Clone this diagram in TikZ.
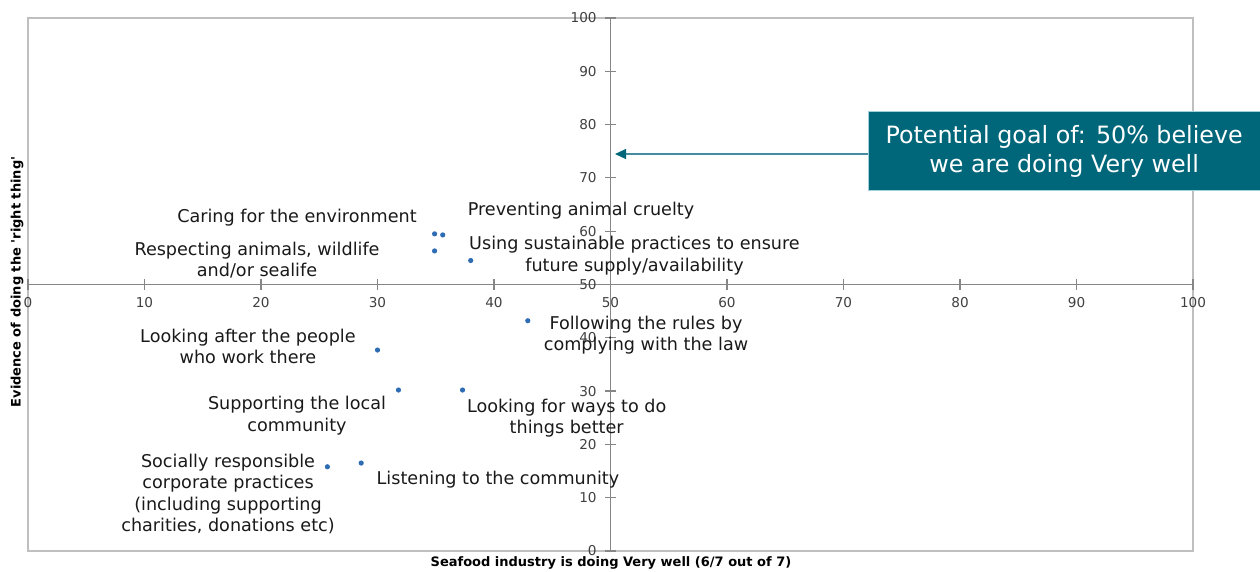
\documentclass[tikz,border=0pt]{standalone}
\usepackage{fontspec}
\setmainfont{DejaVu Sans}[Ligatures=TeXOff]
\usepackage{tikz}
\usetikzlibrary{arrows.meta, positioning}
\definecolor{framegray}{RGB}{191, 191, 191}
\definecolor{axisgray}{RGB}{134, 134, 134}
\definecolor{ticktext}{RGB}{64, 64, 64}
\definecolor{dotblue}{RGB}{46, 108, 180}
\definecolor{goalteal}{RGB}{0, 102, 122}
\definecolor{goalborder}{RGB}{160, 208, 220}
\definecolor{arrowteal}{RGB}{70, 140, 160}

\begin{document}
\begin{tikzpicture}[x=5.825pt, y=2.665pt,
    dot/.style={circle, fill=dotblue, inner sep=0pt, minimum size=2.6pt},
    itemlabel/.style={font=\fontsize{8.8pt}{10.65pt}\selectfont, align=center, inner sep=0pt, text=black!90},
    ticklabel/.style={font=\fontsize{6.8pt}{8pt}\selectfont, text=ticktext, inner sep=0pt},
    axistitle/.style={font=\fontsize{6.5pt}{8pt}\selectfont\bfseries, inner sep=0pt},
    axisline/.style={axisgray, line width=0.6pt}]
        \useasboundingbox (-2.4034, -3.940) rectangle (105.751, 103.377);

        % Plot area
        \draw[framegray, line width=1pt] (0, 0) rectangle (100, 100);

        % Axes crossing at 50/50
        \draw[axisline] (0, 50) -- (100, 50);
        \draw[axisline] (50, 0) -- (50, 100);
        \foreach \v in {0, 10, ..., 100} {
            \draw[axisline] (\v, 49.06) -- (\v, 50.94);
            \draw[axisline] (49.57, \v) -- (50.43, \v);
            \node[ticklabel] (xtick\v) at (\v, 46.53) {\v};
            \node[ticklabel, anchor=east] (ytick\v) at (48.84, \v) {\v};
        }

        % Axis titles
        \node[axistitle] (xtitle) at (50.04, -2.31) {Seafood industry is doing Very well (6/7 out of 7)};
        \node[axistitle, rotate=90] (ytitle) at (-0.944, 50.47) {Evidence of doing the 'right thing'};

        % Data points
        \node[dot] (envdot) at (34.9, 59.5) {};
        \node[dot] (crueltydot) at (35.6, 59.3) {};
        \node[dot] (animalsdot) at (34.9, 56.3) {};
        \node[dot] (sustaindot) at (38.0, 54.5) {};
        \node[dot] (rulesdot) at (42.9, 43.2) {};
        \node[dot] (peopledot) at (30.0, 37.7) {};
        \node[dot] (localdot) at (31.8, 30.2) {};
        \node[dot] (betterdot) at (37.3, 30.2) {};
        \node[dot] (sociallydot) at (25.7, 15.8) {};
        \node[dot] (listendot) at (28.6, 16.5) {};

        % Point labels
        \node[itemlabel] (envlabel) at (23.09, 62.48) {Caring for the environment};
        \node[itemlabel] (crueltylabel) at (47.47, 63.85) {Preventing animal cruelty};
        \node[itemlabel] (animalslabel) at (19.66, 54.60) {Respecting animals, wildlife\\and/or sealife};
        \node[itemlabel] (sustainlabel) at (52.06, 55.44) {Using sustainable practices to ensure\\future supply/availability};
        \node[itemlabel] (ruleslabel) at (53.05, 40.53) {Following the rules by\\complying with the law};
        \node[itemlabel] (peoplelabel) at (18.88, 38.37) {Looking after the people\\who work there};
        \node[itemlabel] (locallabel) at (23.09, 25.42) {Supporting the local\\community};
        \node[itemlabel] (betterlabel) at (46.24, 24.86) {Looking for ways to do\\things better};
        \node[itemlabel] (sociallylabel) at (17.17, 10.69) {Socially responsible\\corporate practices\\(including supporting\\charities, donations etc)};
        \node[itemlabel] (listenlabel) at (40.34, 13.45) {Listening to the community};

        % Goal callout
        \node[fill=goalteal, draw=goalborder, line width=0.5pt, text=white, font=\fontsize{11.9pt}{14.5pt}\selectfont,
              align=center, minimum width=195.85pt, minimum height=39.65pt, inner sep=0pt]
              (goal) at (88.94, 74.98) {Potential goal of: 50\% believe\\we are doing Very well};
        \coordinate (goaltip) at (50.39, 74.48);
        \draw[arrowteal, line width=0.7pt, -{Triangle[length=5.5pt, width=5pt, color=goalteal]}] (goal.west |- goaltip) -- (goaltip);

    \end{tikzpicture}
\end{document}
